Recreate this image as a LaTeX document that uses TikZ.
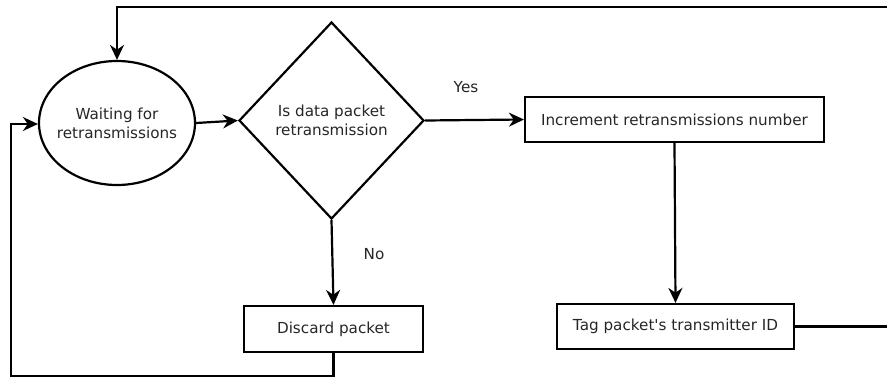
\documentclass[tikz,border=0pt]{standalone}
\usepackage{fontspec}
\setmainfont{DejaVu Sans}
\usetikzlibrary{shapes.geometric,arrows.meta}
% straight apostrophe, taken from the font directly
\newcommand{\straightquote}{\XeTeXglyph\XeTeXcharglyph"0027\relax}
\begin{document}
\begin{tikzpicture}[x=1pt,y=-1pt,
  line width=2.2pt,
  every node/.style={font=\fontsize{15.2}{19}\selectfont, text=black!85, align=center},
  procbox/.style={draw, rectangle, inner sep=0pt},
  arr/.style={-{Stealth[length=15pt,width=14pt]}},
]
\useasboundingbox (0,0) rectangle (887,378);
% the ellipse is drawn empty at a fixed size, its text set on top
\node[draw, ellipse, inner sep=0pt, minimum width=156pt, minimum height=124pt] (wait) at (117,123) {};
\node (waittext) at (wait.center) {Waiting for\\retransmissions};
\node[draw, diamond, inner sep=0pt, aspect=0.94, minimum width=185pt, minimum height=197pt] (dec) at (331.5,120.5) {Is data packet\\retransmission};
\node[procbox, minimum width=299pt, minimum height=45pt] (inc) at (674.5,119.5) {Increment retransmissions number};
\node[procbox, minimum width=179pt, minimum height=46pt] (disc) at (333.5,329) {Discard packet};
\node[procbox, minimum width=237pt, minimum height=45pt] (tag) at (675.5,326.5) {Tag packet\straightquote s transmitter ID};
\node (yes) at (466,87) {Yes};
\node (no) at (374,254) {No};
\coordinate (topR) at (888,7);
\coordinate (tagR) at (888,326.5);
\coordinate (leftB) at (11,376);
\coordinate (leftT) at (11,124);

\draw[arr] (wait.east) -- (dec.west);
\draw[arr] (dec.east) -- (inc.west);
\draw[arr] (dec.south) -- (disc.north);
\draw[arr] (inc.south) -- (tag.north);
\draw (tag.east) -- (tagR);
\draw[arr] (topR) -| (wait.north);
\draw[arr] (disc.south) |- (leftB) -- (leftT) -- (wait.west |- leftT);
\end{tikzpicture}
\end{document}
